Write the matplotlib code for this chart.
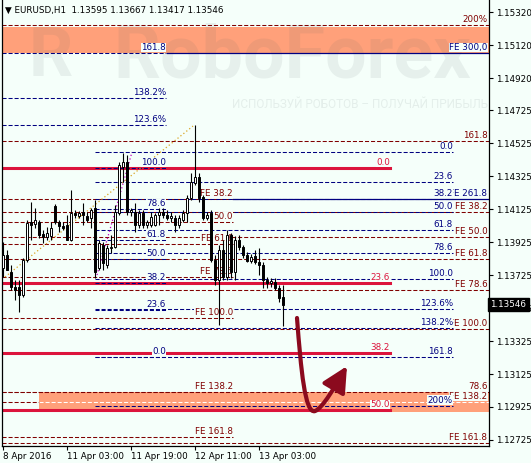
import matplotlib
matplotlib.use("Agg")
import matplotlib.pyplot as plt
import matplotlib.transforms as mtransforms
from matplotlib.patches import Rectangle, FancyArrowPatch
from matplotlib.path import Path
import numpy as np

plt.rcParams['font.family'] = ['DejaVu Sans']

### EURUSD H1 candles
opens = [1.13768, 1.13847, 1.13744, 1.13653, 1.13653, 1.13604, 1.13817, 1.14047, 1.14035, 1.14047,
         1.13975, 1.13956, 1.13962, 1.14145, 1.14047, 1.14023, 1.14029, 1.13938, 1.14102, 1.14084,
         1.14108, 1.14084, 1.14072, 1.14132, 1.13768, 1.13908, 1.13786, 1.13890, 1.13896, 1.14102,
         1.14381, 1.14412, 1.14108, 1.14108, 1.14029, 1.14102, 1.14029, 1.14029, 1.14029, 1.14090,
         1.14108, 1.14090, 1.14072, 1.14072, 1.14029, 1.14060, 1.14102, 1.14193, 1.14284, 1.14321,
         1.14199, 1.14072, 1.14102, 1.13817, 1.13695, 1.13877, 1.13714, 1.13969, 1.13744, 1.13938,
         1.13896, 1.13847, 1.13811, 1.13841, 1.13805, 1.13786, 1.13695, 1.13677, 1.13683, 1.13647,
         1.13595]
highs = [1.13926, 1.13877, 1.13786, 1.13695, 1.13695, 1.13829, 1.14060, 1.14169, 1.14132, 1.14060,
         1.13999, 1.14017, 1.14047, 1.14157, 1.14060, 1.14047, 1.14090, 1.14242, 1.14120, 1.14114,
         1.14163, 1.14108, 1.14132, 1.14181, 1.13938, 1.13926, 1.13908, 1.13969, 1.14151, 1.14412,
         1.14466, 1.14454, 1.14132, 1.14163, 1.14120, 1.14120, 1.14060, 1.14108, 1.14102, 1.14132,
         1.14132, 1.14120, 1.14108, 1.14090, 1.14090, 1.14120, 1.14211, 1.14345, 1.14636, 1.14345,
         1.14211, 1.14108, 1.14120, 1.13847, 1.13908, 1.13938, 1.13999, 1.13981, 1.13962, 1.13969,
         1.13908, 1.13865, 1.13853, 1.13877, 1.13890, 1.13805, 1.13714, 1.13708, 1.13708, 1.13665,
         1.13667]
lows = [1.13714, 1.13756, 1.13635, 1.13574, 1.13501, 1.13592, 1.13805, 1.13938, 1.14011, 1.13950,
        1.13920, 1.13938, 1.13938, 1.14035, 1.13987, 1.13999, 1.13938, 1.13932, 1.14072, 1.14072,
        1.14029, 1.14047, 1.14011, 1.13708, 1.13756, 1.13756, 1.13768, 1.13859, 1.13890, 1.14090,
        1.14290, 1.14090, 1.14084, 1.13987, 1.14011, 1.14011, 1.14011, 1.14017, 1.14023, 1.14029,
        1.14072, 1.14060, 1.14047, 1.13987, 1.14011, 1.14047, 1.14047, 1.14181, 1.14272, 1.14169,
        1.14060, 1.14060, 1.13805, 1.13665, 1.13422, 1.13695, 1.13695, 1.13708, 1.13695, 1.13877,
        1.13829, 1.13805, 1.13799, 1.13793, 1.13726, 1.13647, 1.13647, 1.13653, 1.13635, 1.13562,
        1.13417]
closes = [1.13847, 1.13756, 1.13653, 1.13635, 1.13604, 1.13817, 1.14041, 1.14029, 1.14060, 1.13969,
          1.13956, 1.13981, 1.14011, 1.14047, 1.14023, 1.14011, 1.13938, 1.14102, 1.14090, 1.14102,
          1.14090, 1.14060, 1.14120, 1.13744, 1.13920, 1.13799, 1.13890, 1.13896, 1.14108, 1.14393,
          1.14412, 1.14108, 1.14120, 1.14029, 1.14102, 1.14029, 1.14047, 1.14078, 1.14090, 1.14108,
          1.14090, 1.14072, 1.14084, 1.14029, 1.14072, 1.14102, 1.14193, 1.14290, 1.14321, 1.14193,
          1.14072, 1.14090, 1.13817, 1.13695, 1.13877, 1.13714, 1.13969, 1.13744, 1.13938, 1.13896,
          1.13847, 1.13811, 1.13835, 1.13805, 1.13786, 1.13695, 1.13677, 1.13689, 1.13647, 1.13586,
          1.13546]

time_ticks = [0, 16, 32, 48, 64]
time_labels = ["8 Apr 2016", "11 Apr 03:00", "11 Apr 19:00", "12 Apr 11:00", "13 Apr 03:00"]
price_ticks = [1.15320, 1.15120, 1.14920, 1.14725, 1.14525, 1.14325, 1.14125, 1.13925,
               1.13725, 1.13525, 1.13325, 1.13125, 1.12925, 1.12725]
last_price = 1.13546
header = "\u25bc EURUSD,H1  1.13595 1.13667 1.13417 1.13546"

## fibo tools
navy_r_labels = ["0.0", "23.6", "38.2", "50.0", "61.8", "78.6", "100.0", "123.6%", "138.2%", "161.8", "200%"]
navy_r_levels = [1.14472, 1.14290, 1.14187, 1.14108, 1.13999, 1.13859, 1.13701, 1.13519, 1.13404, 1.13228, 1.12931]

navy_l_labels = ["161.8", "138.2%", "123.6%", "100.0", "78.6", "61.8", "50.0", "38.2", "23.6", "0.0"]
navy_l_levels = [1.15073, 1.14800, 1.14636, 1.14375, 1.14126, 1.13938, 1.13823, 1.13677, 1.13513, 1.13228]

red_labels = ["0.0", "23.6", "38.2", "50.0"]
red_levels = [1.14375, 1.13677, 1.13252, 1.12906]

fe_r_labels = ["200%", "161.8", "FE 38.2", "FE 50.0", "FE 61.8", "FE 78.6", "FE 100.0", "78.6", "FE 138.2", "FE 161.8"]
fe_r_levels = [1.15243, 1.14539, 1.14108, 1.13956, 1.13823, 1.13635, 1.13398, 1.13016, 1.12955, 1.12706]

fe_l_labels = ["FE 38.2", "50.0", "FE 61.8", "FE 78.6", "FE 100.0", "FE 138.2", "FE 161.8"]
fe_l_levels = [1.14187, 1.14047, 1.13914, 1.13714, 1.13465, 1.13016, 1.12742]

solid_labels = ["FE 300,0", "FE 261.8"]
solid_levels = [1.15073, 1.14187]

band_top = [1.15073, 1.15231]
band_bottom = [1.12894, 1.13016]

# colours
bg = "#f5fffa"
navy = "#000080"
maroon = "#800000"
crimson = "#dc143c"
wm = "#4f6262"
fs = 6.3

fig = plt.figure(figsize=(5.31, 4.63), dpi=100, facecolor=bg)
ax = fig.add_axes([2/531, 17/463, 487/531, 446/463], facecolor=bg)
ax.set_xlim(-0.25, 121.5)
ax.set_ylim(1.12688, 1.15395)
XL, XR = -0.25, 121.5

# watermark (sits over the bands, semi transparent)
ax.text(0.10, 0.872, "R", transform=ax.transAxes, fontsize=50, fontweight='bold',
        family='Roboto', color=wm, alpha=0.09, ha='center', va='center', zorder=1.5)
ax.text(0.595, 0.872, "RoboForex", transform=ax.transAxes, fontsize=53, family='Roboto',
        fontweight='bold', color=wm, alpha=0.09, ha='center', va='center', zorder=1.5)
ax.text(0.472, 0.765, "ИСПОЛЬЗУЙ РОБОТОВ – ПОЛУЧАЙ ПРИБЫЛЬ", transform=ax.transAxes,
        fontsize=8.5, family='Roboto', color=wm, alpha=0.1, ha='left', va='center',
        zorder=1.5, clip_on=True)

# bands
ax.add_patch(Rectangle((XL, band_top[0]), XR - XL, band_top[1] - band_top[0],
                       fc="#ffa07a", ec='none', zorder=1))
ax.add_patch(Rectangle((9, band_bottom[0]), XR - 9, band_bottom[1] - band_bottom[0],
                       fc="#ffa07a", ec='none', zorder=1))

dash = (3.9, 1.9)


def hline(y, x0, x1, color, dashed=True, lw=0.75):
    if dashed:
        ax.plot([x0, x1], [y, y], color=color, lw=lw, dashes=dash, zorder=2)
    else:
        ax.plot([x0, x1], [y, y], color=color, lw=lw, zorder=2)


def label(x, y, text, color):
    ax.annotate(text, (x, y), xytext=(0, 4), textcoords='offset points', ha='right',
                va='center', fontsize=fs, color=color, zorder=3,
                bbox=dict(boxstyle='square,pad=0.05', fc=bg, ec='none'))


# fe right (full width)
for lab, lev in zip(fe_r_labels, fe_r_levels):
    if lab == "FE 138.2":
        hline(lev, XL, 9, maroon)
        hline(lev, 9, XR, "white")
    else:
        hline(lev, XL, XR, maroon)
    label(121.1, lev, lab, maroon)

# fe left
for lab, lev in zip(fe_l_labels, fe_l_levels):
    hline(lev, XL, 57.5, maroon)
    label(57.5, lev, lab, maroon)

# solid navy
hline(solid_levels[0], 41, XR, navy, dashed=False, lw=0.9)
hline(solid_levels[1], 57.5, XR, navy, dashed=False, lw=0.9)
for lab, lev in zip(solid_labels, solid_levels):
    label(121.1, lev, lab, navy)

# crimson retracement
for lab, lev in zip(red_labels, red_levels):
    hline(lev, XL, 96.75, crimson, dashed=False, lw=2.2)
    label(96.75, lev, lab, crimson)

# navy left
for i, (lab, lev) in enumerate(zip(navy_l_labels, navy_l_levels)):
    x0 = XL if i < 3 else 23
    hline(lev, x0, 40.75, navy)
    label(40.75, lev, lab, navy)

# navy right
for lab, lev in zip(navy_r_labels, navy_r_levels):
    hline(lev, 23, 112.5, navy)
    label(112.5, lev, lab, navy)

# trend lines
ax.plot([0.5, 47.5], [1.13714, 1.14630], color="#daa520", lw=0.9, ls=(0, (1, 2)), zorder=2)
ax.plot([23.5, 32.25], [1.13726, 1.14472], color="#c000c0", lw=0.9, ls=(0, (1, 2)), zorder=2)

# candles
for i in range(len(opens)):
    o, h, l, c = opens[i], highs[i], lows[i], closes[i]
    ax.vlines(i, l, h, color='black', lw=0.8, zorder=4)
    lo = min(o, c)
    body = max(abs(c - o), 0.00001)
    fc = 'white' if c >= o else 'black'
    ax.add_patch(Rectangle((i - 0.35, lo), 0.7, body, fc=fc, ec='black', lw=0.7, zorder=5))

# forecast arrow
verts = [(73.5, 1.13465), (74.5, 1.13150), (75.5, 1.12880), (78.0, 1.12900),
         (80.0, 1.12920), (83.0, 1.13050), (86.0, 1.13173)]
codes = [Path.MOVETO, Path.CURVE4, Path.CURVE4, Path.CURVE4, Path.CURVE4, Path.CURVE4, Path.CURVE4]
arrow = FancyArrowPatch(path=Path(verts, codes), arrowstyle='-|>,head_length=1.1,head_width=0.55',
                        mutation_scale=14, color="#8b0a1e", lw=3, zorder=6)
ax.add_patch(arrow)

# axes cosmetics
ax.spines['top'].set_visible(False)
for s in ['left', 'right', 'bottom']:
    ax.spines[s].set_linewidth(0.9)
    ax.spines[s].set_color('black')

ax.yaxis.tick_right()
ax.set_yticks(price_ticks)
ax.set_yticklabels([f"{p:.5f}" for p in price_ticks], fontsize=fs)
ax.tick_params(axis='y', length=3, width=0.8, pad=2)
ax.set_xticks(time_ticks)
ax.set_xticklabels(time_labels, fontsize=fs, ha='left')
ax.tick_params(axis='x', length=3, width=0.8, pad=1.5)

trans = mtransforms.blended_transform_factory(ax.transAxes, ax.transData)
ax.text(1.003, last_price, "1.13546", transform=trans, color='white', fontsize=fs,
        ha='left', va='center', zorder=10,
        bbox=dict(boxstyle='square,pad=0.25', fc='black', ec='black'))

fig.text(5/531, 1 - 10/463, header, fontsize=fs, ha='left', va='center')

fig.savefig("out.png", dpi=100, facecolor=bg)
